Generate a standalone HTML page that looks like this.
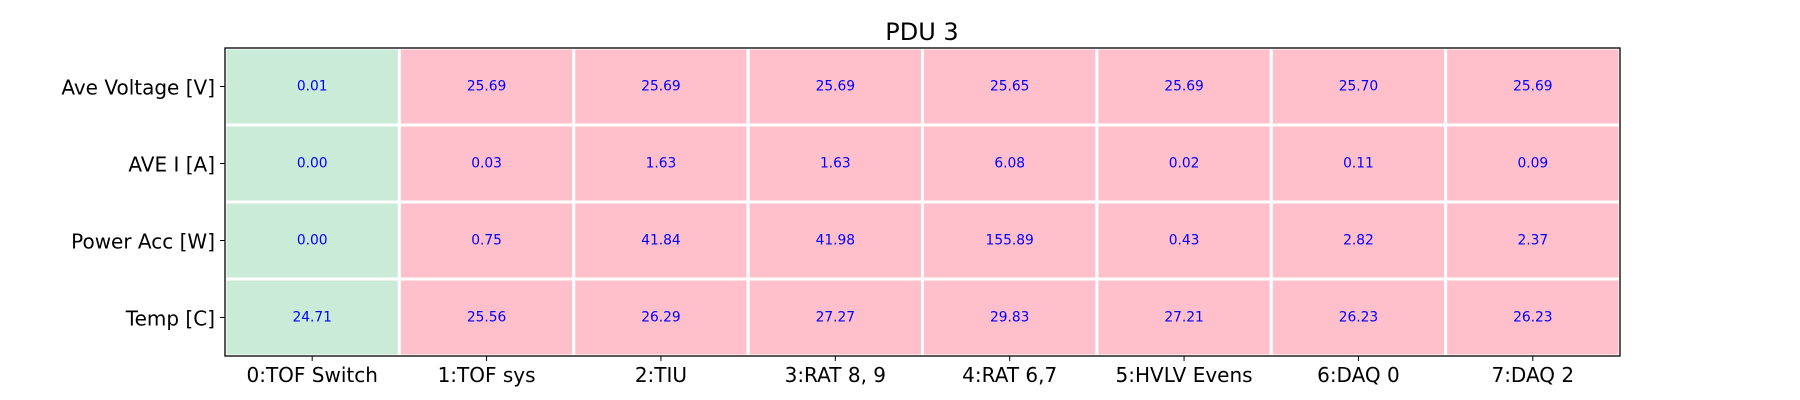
<!DOCTYPE html>
<html><head><meta charset="utf-8"><style>body{margin:0;background:#fff}svg{display:block}text{font-family:"DejaVu Sans","Liberation Sans",sans-serif}</style></head>
<body>
<svg id="chart" width="1800" height="400" xmlns="http://www.w3.org/2000/svg">
<text x="922" y="40" font-size="24" text-anchor="middle">PDU 3</text>
<g id="cells"></g>
<g id="axes"></g>
</svg>
<script>
const columns = ["0:TOF Switch","1:TOF sys","2:TIU","3:RAT 8, 9","4:RAT 6,7","5:HVLV Evens","6:DAQ 0","7:DAQ 2"];
const rows = ["Ave Voltage [V]","AVE I [A]","Power Acc [W]","Temp [C]"];
const voltage = [0.01,25.69,25.69,25.69,25.65,25.69,25.70,25.69];
const current = [0.00,0.03,1.63,1.63,6.08,0.02,0.11,0.09];
const power = [0.00,0.75,41.84,41.98,155.89,0.43,2.82,2.37];
const temp = [24.71,25.56,26.29,27.27,29.83,27.21,26.23,26.23];
const status = [0,1,1,1,1,1,1,1];

const NS="http://www.w3.org/2000/svg";
const L=225,R=1620,T=48,B=356;
const cw=(R-L)/columns.length, rh=(B-T)/rows.length;
const xPos=i=>L+i*cw, yPos=j=>T+j*rh;
const cells=document.getElementById('cells'), axes=document.getElementById('axes');
function mk(tag,attrs,p){const e=document.createElementNS(NS,tag);for(const k in attrs)e.setAttribute(k,attrs[k]);p.appendChild(e);return e;}
const series=[voltage,current,power,temp];
series.forEach((vals,j)=>{
  vals.forEach((v,i)=>{
    const r=mk('rect',{x:xPos(i),y:yPos(j),width:cw,height:rh,fill:status[i]?'#ffc0cb':'#cbebd9',stroke:'#fff','stroke-width':3},cells);
    
    
    const t=mk('text',{x:xPos(i)+cw/2,y:yPos(j)+rh/2,'font-size':13.8,fill:'#0000ff','text-anchor':'middle','dominant-baseline':'central'},cells);
    t.textContent=v.toFixed(2);
    
    
  });
});
const fr=mk('rect',{x:L,y:T,width:R-L,height:B-T,fill:'none',stroke:'#000','stroke-width':1.3},axes);


rows.forEach((r,j)=>{
  const y=yPos(j)+rh/2;
  mk('line',{x1:L-5,x2:L,y1:y,y2:y,stroke:'#000','stroke-width':1},axes);
  const t=mk('text',{x:L-10,y:y+1,'font-size':20,'text-anchor':'end','dominant-baseline':'central'},axes);
  t.textContent=r;
  
  
});
columns.forEach((c,i)=>{
  const x=xPos(i)+cw/2;
  mk('line',{x1:x,x2:x,y1:B,y2:B+5,stroke:'#000','stroke-width':1},axes);
  const t=mk('text',{x:x,y:B+26,'font-size':20,'text-anchor':'middle'},axes);
  t.textContent=c;
  
  
});
</script>
</body></html>
